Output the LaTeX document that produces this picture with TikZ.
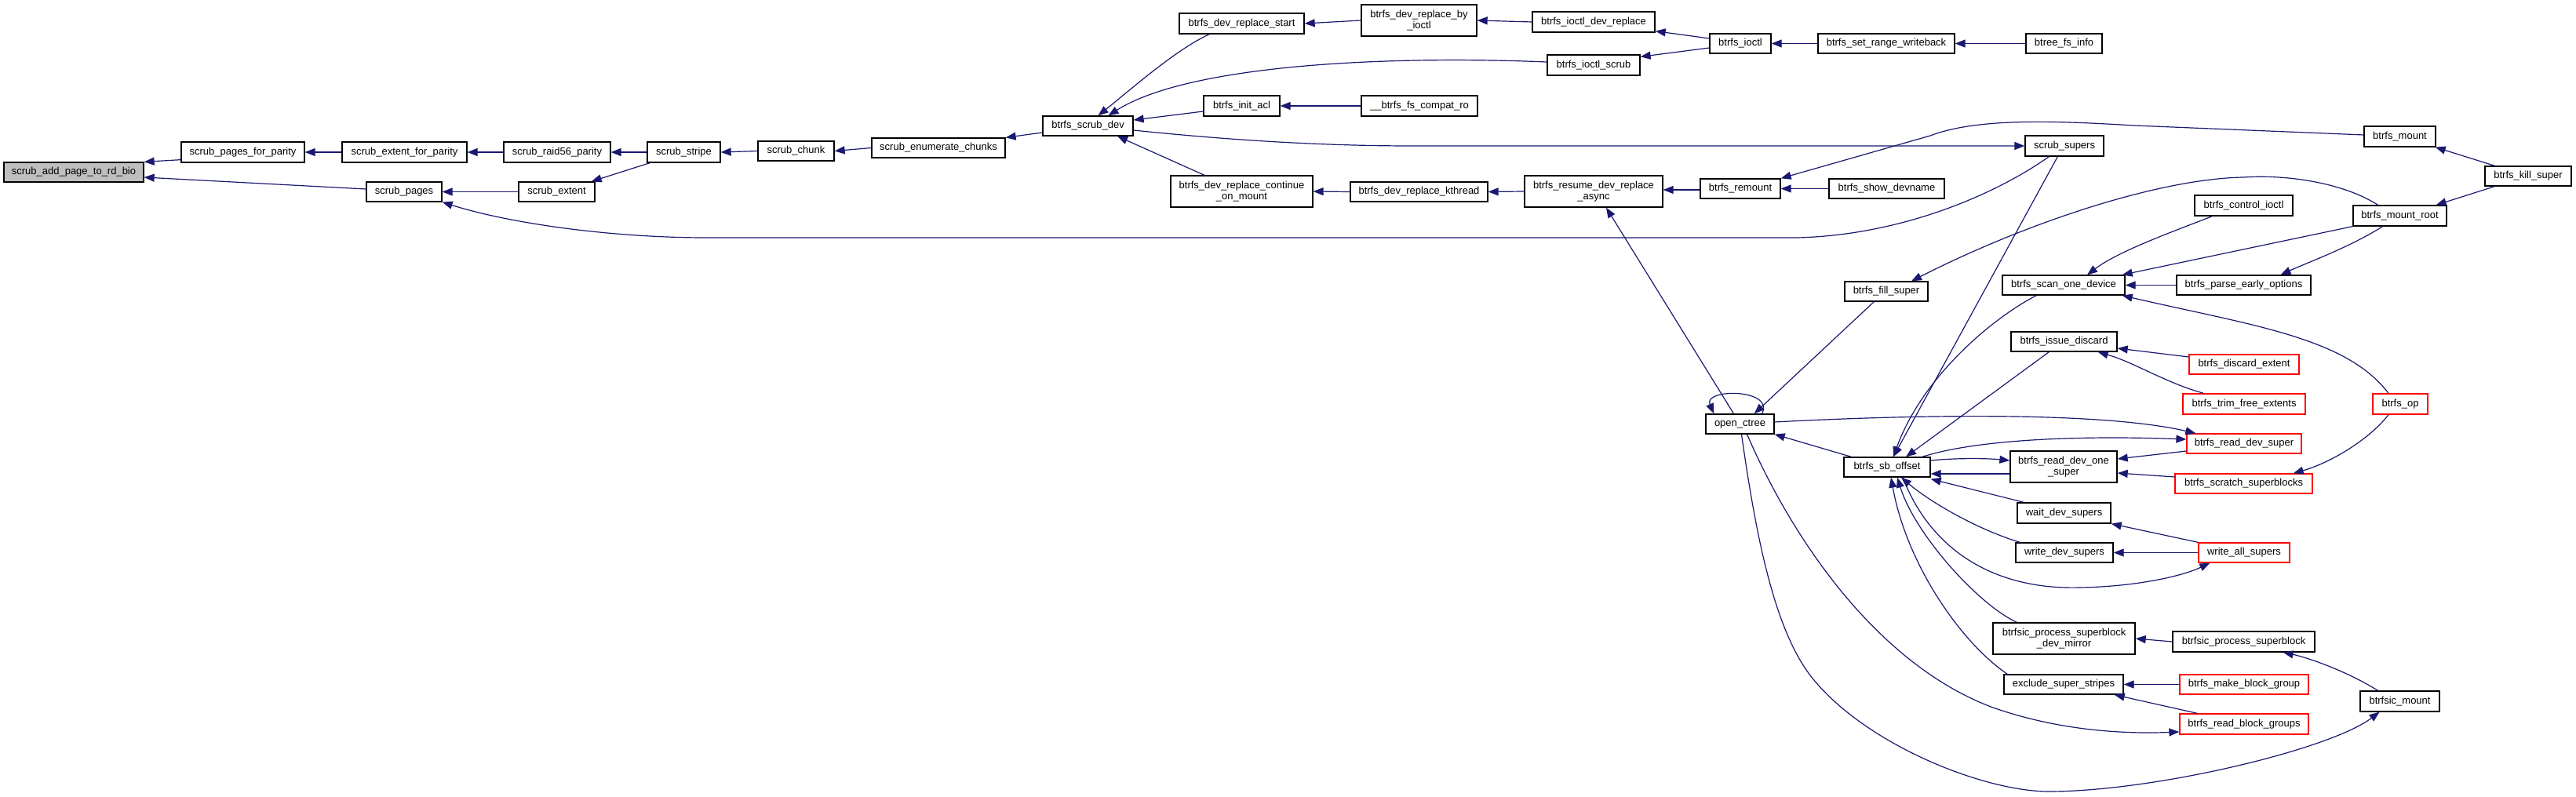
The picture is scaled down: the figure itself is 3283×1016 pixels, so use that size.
\documentclass[tikz,border=0pt]{standalone}
\usepackage{fontspec}
\setmainfont{Liberation Sans}
\usetikzlibrary{arrows.meta,calc}
\definecolor{edgec}{RGB}{25,25,112}
\definecolor{redc}{RGB}{255,0,0}
\definecolor{rootfill}{RGB}{191,191,191}
\begin{document}
\begin{tikzpicture}[x=1pt,y=-1pt,
  nb/.style={draw=black, line width=1.3pt, rectangle, inner sep=0pt, align=center,
             font=\fontsize{13}{14.5}\selectfont, fill=white},
  rb/.style={nb, draw=redc},
  gb/.style={nb, fill=rootfill},
  ed/.style={draw=edgec, line width=1.2pt, -{Triangle[length=13pt,width=10pt]}},
]
\useasboundingbox (0,0) rectangle (3283,1016);

% nodes
\node[gb, minimum width=178pt, minimum height=25pt] (rootn) at (94,219.5) {scrub\_add\_page\_to\_rd\_bio};
\node[nb, minimum width=157pt, minimum height=26pt] (spfp) at (309.5,194) {scrub\_pages\_for\_parity};
\node[nb, minimum width=159pt, minimum height=26pt] (sefp) at (515.5,194) {scrub\_extent\_for\_parity};
\node[nb, minimum width=136pt, minimum height=26pt] (sr56) at (710,194) {scrub\_raid56\_parity};
\node[nb, minimum width=96pt, minimum height=25pt] (spages) at (515,244.5) {scrub\_pages};
\node[nb, minimum width=97pt, minimum height=25pt] (sext) at (709.5,244.5) {scrub\_extent};
\node[nb, minimum width=93pt, minimum height=26pt] (sstripe) at (871.5,194) {scrub\_stripe};
\node[nb, minimum width=97pt, minimum height=25pt] (schunk) at (1014.5,192.5) {scrub\_chunk};
\node[nb, minimum width=170pt, minimum height=25pt] (senum) at (1196,188.5) {scrub\_enumerate\_chunks};
\node[nb, minimum width=115pt, minimum height=25pt] (bsd) at (1386.5,160.5) {btrfs\_scrub\_dev};
\node[nb, minimum width=159pt, minimum height=26pt] (drs) at (1582.5,30) {btrfs\_dev\_replace\_start};
\node[nb, minimum width=147pt, minimum height=40pt] (dbi) at (1808.5,26) {btrfs\_dev\_replace\_by\\\_ioctl};
\node[nb, minimum width=156pt, minimum height=26pt] (idr) at (2031,28) {btrfs\_ioctl\_dev\_replace};
\node[nb, minimum width=78pt, minimum height=25pt] (ioctl) at (2218,55.5) {btrfs\_ioctl};
\node[nb, minimum width=174pt, minimum height=25pt] (srw) at (2404,55.5) {btrfs\_set\_range\_writeback};
\node[nb, minimum width=97pt, minimum height=25pt] (bfi) at (2630.5,55.5) {btree\_fs\_info};
\node[nb, minimum width=118pt, minimum height=26pt] (iscrub) at (2031,83) {btrfs\_ioctl\_scrub};
\node[nb, minimum width=97pt, minimum height=26pt] (acl) at (1582.5,135) {btrfs\_init\_acl};
\node[nb, minimum width=148pt, minimum height=26pt] (compat) at (1809,135) {\_\_btrfs\_fs\_compat\_ro};
\node[nb, minimum width=181pt, minimum height=40pt] (dcm) at (1582.5,244) {btrfs\_dev\_replace\_continue\\\_on\_mount};
\node[nb, minimum width=175pt, minimum height=25pt] (kthr) at (1808.5,244.5) {btrfs\_dev\_replace\_kthread};
\node[nb, minimum width=176pt, minimum height=40pt] (resume) at (2031,244) {btrfs\_resume\_dev\_replace\\\_async};
\node[nb, minimum width=102pt, minimum height=25pt] (remount) at (2218,240.5) {btrfs\_remount};
\node[nb, minimum width=147pt, minimum height=25pt] (showdev) at (2404.5,240.5) {btrfs\_show\_devname};
\node[nb, minimum width=100pt, minimum height=26pt] (ssup) at (2631,186) {scrub\_supers};
\node[nb, minimum width=91pt, minimum height=26pt] (mount) at (3058.5,174) {btrfs\_mount};
\node[nb, minimum width=110pt, minimum height=25pt] (kill) at (3222,224.5) {btrfs\_kill\_super};
\node[nb, minimum width=125pt, minimum height=26pt] (ctl) at (2859.5,262) {btrfs\_control\_ioctl};
\node[nb, minimum width=119pt, minimum height=26pt] (mroot) at (3058.5,275) {btrfs\_mount\_root};
\node[nb, minimum width=156pt, minimum height=25pt] (scan) at (2630,363.5) {btrfs\_scan\_one\_device};
\node[nb, minimum width=171pt, minimum height=25pt] (peo) at (2859.5,363.5) {btrfs\_parse\_early\_options};
\node[nb, minimum width=135pt, minimum height=25pt] (disc) at (2630.5,435.5) {btrfs\_issue\_discard};
\node[rb, minimum width=140pt, minimum height=25pt] (dext) at (2860,464.5) {btrfs\_discard\_extent};
\node[rb, minimum width=156pt, minimum height=26pt] (trim) at (2860,515) {btrfs\_trim\_free\_extents};
\node[rb, minimum width=70pt, minimum height=26pt] (op) at (3059,515) {btrfs\_op};
\node[rb, minimum width=146pt, minimum height=25pt] (rds) at (2860,565.5) {btrfs\_read\_dev\_super};
\node[nb, minimum width=136pt, minimum height=40pt] (rdos) at (2630,595) {btrfs\_read\_dev\_one\\\_super};
\node[rb, minimum width=175pt, minimum height=25pt] (scratch) at (2859.5,616.5) {btrfs\_scratch\_superblocks};
\node[nb, minimum width=119pt, minimum height=26pt] (wds) at (2630.5,654) {wait\_dev\_supers};
\node[nb, minimum width=124pt, minimum height=25pt] (wrds) at (2631,704.5) {write\_dev\_supers};
\node[rb, minimum width=116pt, minimum height=25pt] (was) at (2860,704.5) {write\_all\_supers};
\node[nb, minimum width=181pt, minimum height=40pt] (psdm) at (2630.5,814) {btrfsic\_process\_superblock\\\_dev\_mirror};
\node[nb, minimum width=181pt, minimum height=26pt] (psb) at (2859.5,818) {btrfsic\_process\_superblock};
\node[nb, minimum width=152pt, minimum height=25pt] (ess) at (2630,872.5) {exclude\_super\_stripes};
\node[rb, minimum width=164pt, minimum height=25pt] (mbg) at (2860,872.5) {btrfs\_make\_block\_group};
\node[rb, minimum width=164pt, minimum height=26pt] (rbg) at (2860,923) {btrfs\_read\_block\_groups};
\node[nb, minimum width=101pt, minimum height=26pt] (bmount) at (3058.5,894) {btrfsic\_mount};
\node[nb, minimum width=106pt, minimum height=25pt] (fill) at (2404,371.5) {btrfs\_fill\_super};
\node[nb, minimum width=87pt, minimum height=25pt] (octree) at (2217.5,540.5) {open\_ctree};
\node[nb, minimum width=110pt, minimum height=25pt] (sbo) at (2405,595.5) {btrfs\_sb\_offset};

% edges (arrow at callee)
\draw[ed] ($(spfp.south west)+(0,-4)$) -- (rootn.north east);
\draw[ed] ($(spages.west)+(0,-3.5)$) -- ($(rootn.east)+(0,6.5)$);
\draw[ed] (sefp.west) -- (spfp.east);
\draw[ed] (sr56.west) -- (sefp.east);
\draw[ed] (sext.west) -- (spages.east);
\draw[ed] (sstripe.west) -- (sr56.east);
\draw[ed] ($(sstripe.south west)+(4,0)$) -- ($(sext.north east)+(-5,0)$);
\draw[ed] (schunk.west) -- (sstripe.east);
\draw[ed] (senum.west) -- (schunk.east);
\draw[ed] ($(bsd.west)+(0,8.5)$) -- (senum.north east);
\draw[ed] ($(drs.south west)+(39,0)$) .. controls (1500,62) and (1440,115) .. ($(bsd.north)+(13,0)$);
\draw[ed] ($(iscrub.west)+(0,-4)$) .. controls (1750,70) and (1510,85) .. ($(bsd.north)+(26,0)$);
\draw[ed] ($(acl.west)+(0,7)$) -- ($(bsd.east)+(0,-7.5)$);
\draw[ed] (compat.west) -- (acl.east);
\draw[ed] ($(bsd.east)+(0,5.5)$) .. controls (1560,178) and (1680,186) .. (1800,186) -- (ssup.west);
\draw[ed] ($(dcm.north)+(-47.5,0)$) -- ($(bsd.south)+(37.5,0)$);
\draw[ed] (dbi.west) -- (drs.east);
\draw[ed] (idr.west) -- (dbi.east);
\draw[ed] ($(ioctl.west)+(0,-6.5)$) -- ($(idr.south east)+(0,-2)$);
\draw[ed] ($(ioctl.west)+(0,5.5)$) -- ($(iscrub.north east)+(0,3)$);
\draw[ed] (srw.west) -- (ioctl.east);
\draw[ed] (bfi.west) -- (srw.east);
\draw[ed] (kthr.west) -- (dcm.east);
\draw[ed] (resume.west) -- (kthr.east);
\draw[ed] ($(remount.west)+(0,1.5)$) -- ($(resume.east)+(0,-2)$);
\draw[ed] (showdev.west) -- (remount.east);
\draw[ed] ($(mount.west)+(0,-2)$) -- (2720,160) .. controls (2620,154) and (2520,150) .. (2460,173) -- (remount.north east);
\draw[ed] ($(kill.north west)+(13,0)$) -- ($(mount.south east)+(-1,0)$);
\draw[ed] ($(kill.south west)+(13,0)$) -- ($(mroot.north east)+(-14,0)$);
\draw[ed] (mroot.south west) -- ($(scan.north east)+(-4,0)$);
\draw[ed] ($(mroot.south)+(-22,0)$) .. controls (2995,315) and (2940,335) .. ($(peo.north)+(47,0)$);
\draw[ed] ($(ctl.south west)+(23,0)$) .. controls (2770,295) and (2700,320) .. ($(scan.north)+(30,0)$);
\draw[ed] (peo.west) -- (scan.east);
\draw[ed] ($(op.north)+(-15,0)$) .. controls (2990,430) and (2870,415) .. ($(scan.south east)+(-4,0)$);
\draw[ed] ($(scan.south west)+(44,0)$) .. controls (2540,405) and (2450,480) .. ($(sbo.north)+(8,0)$);
\draw[ed] ($(ssup.south west)+(42,0)$) -- ($(sbo.north)+(8,0)$);
\draw[ed] ($(disc.south west)+(49,0)$) -- ($(sbo.north)+(24,0)$);
\draw[ed] ($(dext.west)+(0,-9.5)$) -- ($(disc.east)+(0,8.5)$);
\draw[ed] ($(trim.north west)+(27,0)$) .. controls (2760,488) and (2720,462) .. ($(disc.south east)+(-25,0)$);
\draw[ed] ($(octree.north)+(-8,0)$) -- ($(resume.south)+(16,0)$);
\draw[ed] ($(octree.north east)+(-16,0)$) .. controls (2262,495) and (2170,495) .. ($(octree.north west)+(11,0)$);
\draw[ed] ($(fill.south west)+(38,0)$) -- ($(octree.north east)+(-26,0)$);
\draw[ed] ($(mroot.north)+(-28,0)$) .. controls (2990,235) and (2920,222) .. (2859,226) .. controls (2750,228) and (2580,285) .. ($(fill.north)+(32,0)$);
\draw[ed] ($(octree.east)+(0,-2.5)$) .. controls (2450,528) and (2680,525) .. ($(rds.north west)+(12,0)$);
\draw[ed] ($(sbo.north west)+(10,0)$) -- (octree.south east);
\draw[ed] ($(octree.south)+(2,0)$) .. controls (2240,700) and (2265,810) .. (2311,866) .. controls (2380,950) and (2530,1010) .. (2614,1009) .. controls (2750,1008) and (2970,955) .. ($(bmount.south)+(-26,0)$);
\draw[ed] ($(octree.south)+(9,0)$) .. controls (2290,700) and (2400,850) .. (2540,902) .. controls (2620,930) and (2700,936) .. ($(rbg.west)+(0,10)$);
\draw[ed] ($(sbo.east)+(0,-8.5)$) .. controls (2490,584) and (2530,584) .. ($(rdos.west)+(0,-8)$);
\draw[ed] ($(rdos.west)+(0,9)$) -- ($(sbo.east)+(0,8.5)$);
\draw[ed] ($(sbo.north east)+(-11,0)$) .. controls (2520,560) and (2650,555) .. ($(rds.west)+(0,-5.5)$);
\draw[ed] ($(rds.west)+(0,9.5)$) -- ($(rdos.east)+(0,-10)$);
\draw[ed] ($(scratch.west)+(0,-8.5)$) -- ($(rdos.east)+(0,8)$);
\draw[ed] ($(op.south)+(-15,0)$) .. controls (3020,560) and (2970,590) .. ($(scratch.north east)+(-25,0)$);
\draw[ed] ($(wds.north west)+(9,0)$) -- ($(sbo.south east)+(0,2)$);
\draw[ed] ($(wrds.north west)+(6,0)$) .. controls (2520,675) and (2460,640) .. ($(sbo.south)+(18,0)$);
\draw[ed] ($(psdm.north west)+(31,0)$) .. controls (2520,770) and (2440,680) .. ($(sbo.south)+(13,0)$);
\draw[ed] ($(ess.north west)+(5,0)$) .. controls (2500,820) and (2430,720) .. ($(sbo.south)+(5,0)$);
\draw[ed] ($(sbo.south)+(20,0)$) .. controls (2460,700) and (2540,752) .. (2650,749) .. controls (2720,748) and (2780,735) .. ($(was.south west)+(15,0)$);
\draw[ed] (was.north west) -- (wds.south east);
\draw[ed] (was.west) -- (wrds.east);
\draw[ed] (psb.west) -- (psdm.east);
\draw[ed] ($(bmount.north)+(-28,0)$) .. controls (2990,855) and (2940,838) .. ($(psb.south east)+(-41,0)$);
\draw[ed] (mbg.west) -- (ess.east);
\draw[ed] ($(rbg.north west)+(23,0)$) -- ($(ess.south east)+(-12,0)$);
\draw[ed] ($(ssup.south west)+(31,0)$) .. controls (2540,250) and (2420,300) .. (2290,303) -- (900,303) .. controls (780,303) and (650,285) .. (spages.south east);
\end{tikzpicture}
\end{document}
